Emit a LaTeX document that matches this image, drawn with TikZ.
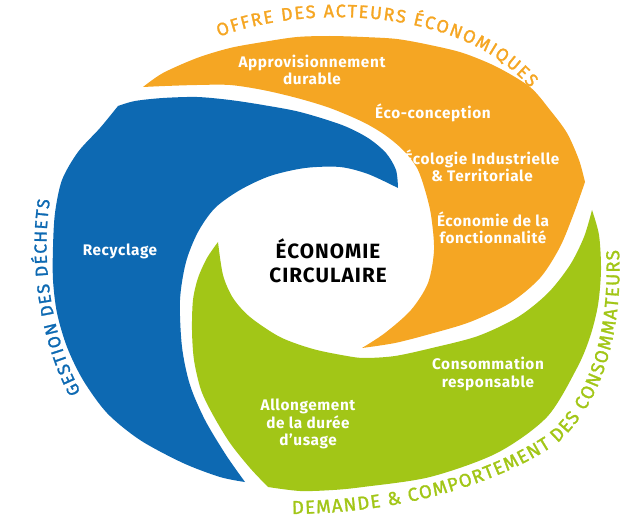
\documentclass[tikz,border=0pt]{standalone}
\usepackage{fontspec}
\setmainfont{Fira Sans}
\usetikzlibrary{decorations.text}
\definecolor{blue1}{RGB}{13,105,178}
\definecolor{orange1}{RGB}{245,166,35}
\definecolor{green1}{RGB}{162,198,23}
\tikzstyle{inlabel} = [text=white, font=\bfseries\fontsize{11.5}{13}\selectfont\addfontfeatures{LetterSpace=4}, align=center, inner sep=0pt]
\tikzstyle{corelabel} = [text=black, font=\bfseries\fontsize{15.5}{18}\selectfont\addfontfeatures{LetterSpace=5}, align=center, inner sep=0pt]
\tikzstyle{ringtext} = [decorate]
\newcommand{\ringfont}[1]{\fontsize{#1}{#1}\selectfont\addfontfeatures{FakeBold=1.5}}

\begin{document}
\begin{tikzpicture}[x=0.75pt, y=-0.75pt]
	\useasboundingbox (0,0) rectangle (626,517);
	% Swirl
	\fill [orange1] plot [smooth] coordinates {(143,87) (163,73) (197,58) (230,48) (263,42) (297,37) (330,36) (363,37) (397,39) (430,45) (463,53) (497,67) (530,87) (550,110) (567,133) (579,160) (585,182)}
		-- plot [smooth] coordinates {(585,182) (574,213) (560,247) (540,278) (510,303) (470,322) (430,334) (395,343) (362,348)}
		-- plot [smooth] coordinates {(362,348) (385,333) (411,310) (428,283) (434,250) (431,215) (425,190) (417,168) (403,150) (385,135) (363,122) (330,108) (297,98) (263,90) (230,85) (197,85) (165,86) (143,87)} -- cycle;
	\fill [blue1] plot [smooth] coordinates {(118,106) (100,128) (78,152) (62,180) (55,213) (53,247) (53,280) (57,313) (67,347) (83,380) (107,413) (140,440) (183,463) (220,477) (245,482)}
		-- plot [smooth] coordinates {(245,482) (226,455) (205,420) (190,385) (182,347) (180,300) (186,262) (198,232) (215,208) (240,190) (270,176) (305,168) (340,167) (368,174) (398,188)}
		-- plot [smooth] coordinates {(398,188) (396,170) (386,153) (368,138) (342,125) (300,112) (263,105) (230,100) (197,97) (163,98) (135,101) (118,106)} -- cycle;
	\fill [green1] plot [smooth] coordinates {(218,242) (207,258) (198,278) (193,300) (192,330) (194,360) (201,390) (213,415) (230,443) (250,468) (268,487)}
		-- plot [smooth] coordinates {(268,487) (300,491) (333,490) (363,487) (430,477) (497,453) (547,417) (577,368) (590,337) (598,305) (601,270) (599,235) (592,210)}
		-- plot [smooth] coordinates {(592,210) (584,237) (570,265) (548,293) (518,317) (478,336) (432,348) (395,356) (365,358) (347,356) (313,349) (280,337) (250,317) (233,298) (223,275) (218,242)} -- cycle;

	% Labels
	\node [inlabel] (approv) at (312,70) {Approvisionnement\\durable};
	\node [inlabel] (ecoconc) at (433,113) {Éco-conception};
	\node [inlabel] (eit) at (482,166) {Écologie Industrielle\\\& Territoriale};
	\node [inlabel] (efonc) at (493,228) {Économie de la\\fonctionnalité};
	\node [inlabel] (recyc) at (120,251) {Recyclage};
	\node [inlabel] (conso) at (488,374) {Consommation\\responsable};
	\node [inlabel] (allong) at (308,424) {Allongement\\de la durée\\d’usage};
	\node [corelabel] (core) at (328,261) {ÉCONOMIE\\CIRCULAIRE};

	% Ring titles
	\coordinate (offreA) at (219,37);
	\coordinate (offreB) at (530,88);
	\coordinate (gestA) at (81,392);
	\coordinate (gestB) at (50,200);
	\coordinate (demA) at (292,514);
	\coordinate (demM) at (555,445);
	\coordinate (demB) at (619,250);
	\path [ringtext, decoration={text along path, text align={fit to path}, text={|\ringfont{13.5}\color{orange1}|OFFRE DES ACTEURS ÉCONOMIQUES}}]
		(offreA) .. controls (300,5) and (460,5) .. (offreB);
	\path [ringtext, decoration={text along path, text align={fit to path}, text={|\ringfont{13}\color{blue1}|GESTION DES DÉCHETS}}]
		(gestA) .. controls (52,340) and (40,260) .. (gestB);
	\path [ringtext, decoration={text along path, text align={fit to path}, text={|\ringfont{14}\color{green1}|DEMANDE {\&} COMPORTEMENT DES CONSOMMATEURS}}]
		(demA) .. controls (402,513) and (494,485) .. (demM) .. controls (603,405) and (623,330) .. (demB);
\end{tikzpicture}
\end{document}
